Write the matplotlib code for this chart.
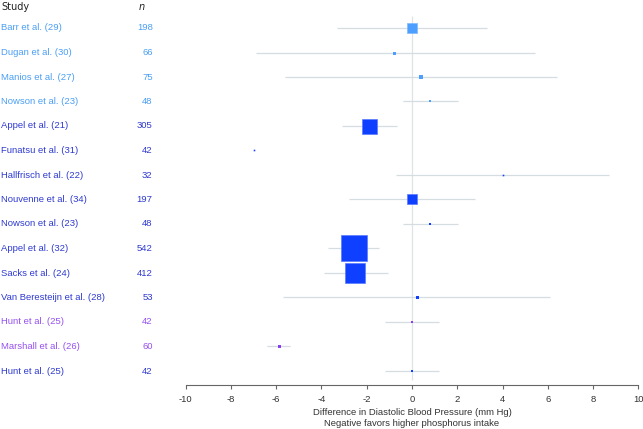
import matplotlib
matplotlib.use("Agg")
import matplotlib.pyplot as plt
import numpy as np

studies = ["Barr et al. (29)", "Dugan et al. (30)", "Manios et al. (27)", "Nowson et al. (23)",
           "Appel et al. (21)", "Funatsu et al. (31)", "Hallfrisch et al. (22)", "Nouvenne et al. (34)",
           "Nowson et al. (23)", "Appel et al. (32)", "Sacks et al. (24)", "Van Beresteijn et al. (28)",
           "Hunt et al. (25)", "Marshall et al. (26)", "Hunt et al. (25)"]
n_values = [198, 66, 75, 48, 305, 42, 32, 197, 48, 542, 412, 53, 42, 60, 42]
estimate = [0.0, -0.8, 0.4, 0.81, -1.9, -6.98, 4.01, 0.0, 0.81, -2.58, -2.5, 0.21, 0.0, -5.89, 0.0]
ci_low = [-3.3, -6.89, -5.61, -0.4, -3.09, np.nan, -0.71, -2.78, -0.4, -3.7, -3.89, -5.7, -1.19, -6.41, -1.19]
ci_high = [3.31, 5.42, 6.42, 2.02, -0.68, np.nan, 8.72, 2.78, 2.02, -1.47, -1.07, 6.11, 1.21, -5.39, 1.21]
weight = [10, 3, 3.5, 2, 15, 1.6, 1.6, 10, 2.5, 26.5, 20, 3, 2, 3, 2]  # relative square size
group = [0, 0, 0, 0, 1, 1, 1, 1, 1, 1, 1, 1, 2, 2, 1]
xticks = [-10, -8, -6, -4, -2, 0, 2, 4, 6, 8, 10]
xlabel_lines = ["Difference in Diastolic Blood Pressure (mm Hg)", "Negative favors higher phosphorus intake"]

marker_colors = ["#4d9fff", "#0f40ff", "#8a3cf5"]
edge_colors = ["#80baff", "#5a7bff", "#b083f8"]
text_colors = ["#4a9ff5", "#2f3ad0", "#9650f0"]

W, H = 643, 429
fig = plt.figure(figsize=(W / 100, H / 100), dpi=100)
left_px, right_px, top_px, bot_px = 185.7, 638.3, 16, 384.7
ax = fig.add_axes([left_px / W, 1 - bot_px / H, (right_px - left_px) / W, (bot_px - top_px) / H])

nrows = len(studies)
ax.set_xlim(-10, 10)
ax.set_ylim(14.56, -0.49)

# zero line
ax.plot([0, 0], [-0.49, 14.37], color="#dde3e6", lw=0.9, zorder=1, solid_capstyle="butt")

for i in range(nrows):
    if not np.isnan(ci_low[i]):
        ax.plot([ci_low[i], ci_high[i]], [i, i], color="#d6dde0", lw=0.9, zorder=2,
                solid_capstyle="butt")
    g = group[i]
    ax.plot(estimate[i], i, marker="s", ms=weight[i] * 72 / 100, color=marker_colors[g],
            mec=edge_colors[g], mew=0.5 if weight[i] > 5 else 0.0, zorder=3, linestyle="none")

for s in ["top", "right", "left"]:
    ax.spines[s].set_visible(False)
ax.spines["bottom"].set_color("#666666")
ax.spines["bottom"].set_linewidth(0.8)
ax.set_yticks([])
ax.set_xticks(xticks)
ax.set_xticklabels([str(t) for t in xticks], fontsize=6.8, family="Liberation Sans", color="#333333")
ax.tick_params(axis="x", direction="out", length=3, width=0.8, color="#666666", pad=4.5)


def fy(px):
    return 1 - px / H


cx = (left_px + right_px) / 2 / W
fig.text(cx, fy(412.7), xlabel_lines[0], fontsize=6.8, family="Liberation Sans", color="#333333",
         ha="center", va="center")
fig.text(cx, fy(424), xlabel_lines[1], fontsize=6.8, family="Liberation Sans", color="#333333",
         ha="center", va="center")

# left table
fig.text(1 / W, fy(7), "Study", fontsize=7, family="DejaVu Sans", color="#222222", va="center", ha="left")
fig.text(139 / W, fy(7), "n", fontsize=7, family="DejaVu Sans", style="italic", color="#222222",
         va="center", ha="left")
for i in range(nrows):
    ypx = 28 + 24.5 * i
    c = text_colors[group[i]]
    fig.text(1 / W, fy(ypx), studies[i], fontsize=6.8, family="Liberation Sans", color=c,
             va="center", ha="left")
    fig.text(152.7 / W, fy(ypx), str(n_values[i]), fontsize=6.8, family="Liberation Sans", color=c,
             va="center", ha="right")

fig.savefig("out.png", dpi=100)
